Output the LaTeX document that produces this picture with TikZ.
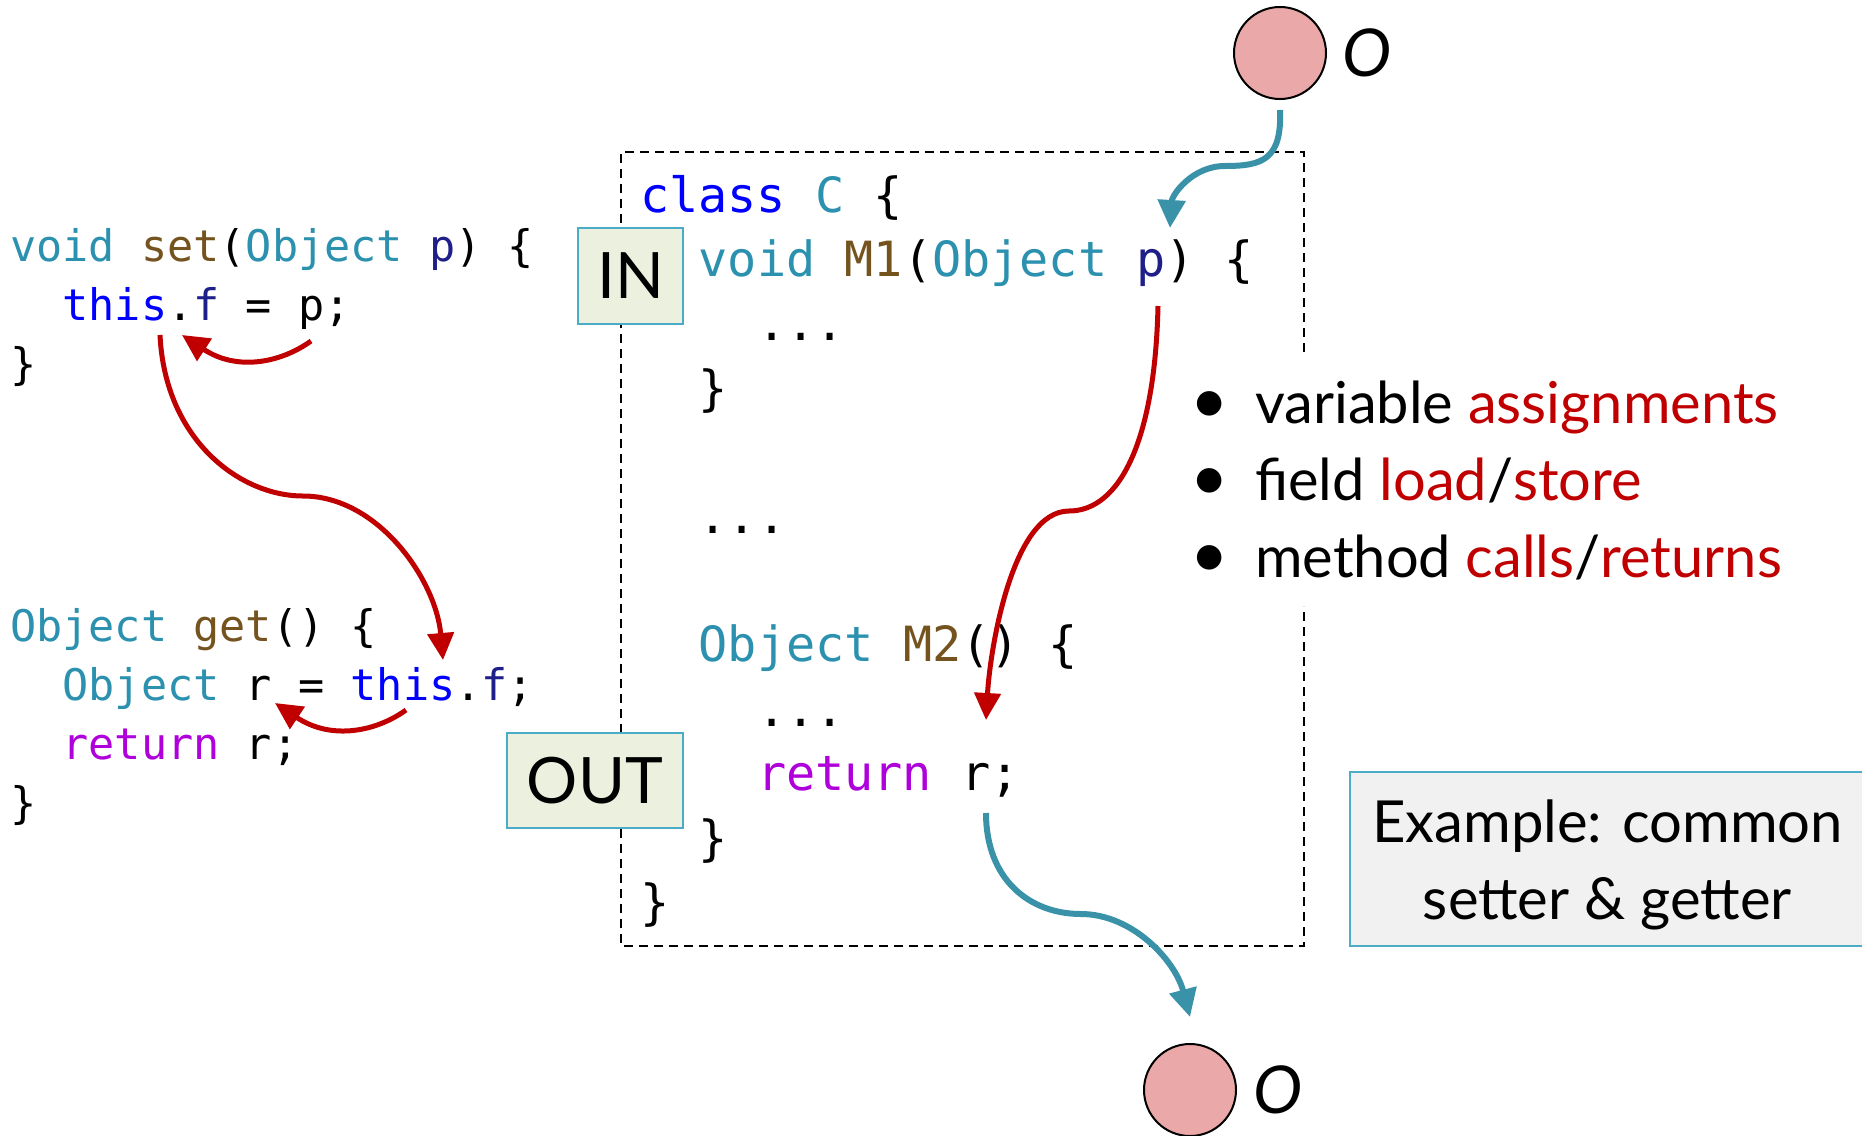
\documentclass[tikz,border=0pt]{standalone}
\usepackage{fontspec}
\setmainfont{Lato}
\setmonofont{DejaVu Sans Mono}
\usetikzlibrary{arrows.meta}

% syntax colours
\definecolor{cKwC}{HTML}{0000FF}
\definecolor{cTyC}{HTML}{2B91AF}
\definecolor{cFnC}{HTML}{74531F}
\definecolor{cPaC}{HTML}{1F1F8A}
\definecolor{cRtC}{HTML}{AF00DB}
% diagram colours
\definecolor{flowred}{HTML}{C00000}
\definecolor{flowblue}{HTML}{3A92A8}
\definecolor{tagfill}{HTML}{EBF1DE}
\definecolor{tagline}{HTML}{4BACC6}
\definecolor{objfill}{HTML}{EBA8A8}
\definecolor{notefill}{HTML}{F1F1F1}

\newcommand\cKw[1]{\textcolor{cKwC}{#1}}
\newcommand\cTy[1]{\textcolor{cTyC}{#1}}
\newcommand\cFn[1]{\textcolor{cFnC}{#1}}
\newcommand\cPa[1]{\textcolor{cPaC}{#1}}
\newcommand\cRt[1]{\textcolor{cRtC}{#1}}

\begin{document}
\begin{tikzpicture}[x=1pt,y=-1pt,
  codeS/.style={anchor=base west, inner sep=0pt, font=\fontsize{43.5}{52}\selectfont\ttfamily},
  codeL/.style={anchor=base west, inner sep=0pt, font=\fontsize{48.5}{58}\selectfont\ttfamily},
  tag/.style={draw=tagline, line width=1.5pt, fill=tagfill, inner sep=0pt, font=\fontsize{64}{70}\selectfont},
  obj/.style={circle, draw=black, line width=2pt, fill=objfill, minimum size=92pt, inner sep=0pt},
  objlabel/.style={anchor=west, inner sep=0pt, font=\fontsize{66}{70}\selectfont\itshape},
  bullet/.style={anchor=base west, inner sep=0pt, font=\fontsize{57.8}{60}\selectfont},
  note/.style={draw=tagline, line width=1.5pt, fill=notefill, inner sep=0pt},
  notetext/.style={inner sep=0pt, align=center, font=\fontsize{58}{77}\selectfont},
  redflow/.style={draw=flowred, line width=5pt, -{Triangle[length=27pt,width=26pt]}},
  blueflow/.style={draw=flowblue, line width=6pt, -{Triangle[length=28pt,width=27pt]}},
  scopebox/.style={draw=black, line width=2.4pt, dash pattern=on 9pt off 6pt}
]
\useasboundingbox (0,0) rectangle (1862,1135);

% setter and getter
\node[codeS] (s1) at (10,261) {\cTy{void} \cFn{set}(\cTy{Object} \cPa{p}) \{};
\node[codeS] (s2) at (62.4,320) {\cKw{this}.\cPa{f} = p;};
\node[codeS] (s3) at (10,379) {\}};
\node[codeS] (g1) at (10,641) {\cTy{Object} \cFn{get}() \{};
\node[codeS] (g2) at (62.4,700) {\cTy{Object} r = \cKw{this}.\cPa{f};};
\node[codeS] (g3) at (62.4,759) {\cRt{return} r;};
\node[codeS] (g4) at (10,818) {\}};

% class C, with its border broken beside the list
\draw[scopebox] (1304,352) -- (1304,152) -- (621,152) -- (621,946) -- (1304,946) -- (1304,606);
\node[codeL] (c0) at (640,212) {\cKw{class} \cTy{C} \{};
\node[codeL] (c1) at (698.4,276.5) {\cTy{void} \cFn{M1}(\cTy{Object} \cPa{p}) \{};
\node[codeL] (c2) at (756.8,340) {...};
\node[codeL] (c3) at (698.4,405) {\}};
\node[codeL] (c5) at (698.4,533) {...};
\node[codeL] (c7) at (698.4,661) {\cTy{Object} \cFn{M2}() \{};
\node[codeL] (c8) at (756.8,726) {...};
\node[codeL] (c9) at (756.8,790) {\cRt{return} r;};
\node[codeL] (c10) at (698.4,855) {\}};
\node[codeL] (c11) at (640,919) {\}};

% entry and exit tags
\node[tag, minimum width=105pt, minimum height=96pt] (in) at (630.5,276) {IN};
\node[tag, minimum width=176pt, minimum height=95pt] (out) at (595,780.5) {OUT};

% abstract objects
\node[obj] (o1) at (1280,53) {};
\node[objlabel] (o1l) at (1342,53) {O};
\node[obj] (o2) at (1190,1090) {};
\node[objlabel] (o2l) at (1253,1090) {O};

% what is tracked
\node[bullet] (b1) at (1190,423) {\makebox[65pt][l]{\fontsize{66}{60}\selectfont•}variable \textcolor{flowred}{assignments}};
\node[bullet] (b2) at (1190,500) {\makebox[65pt][l]{\fontsize{66}{60}\selectfont•}field \textcolor{flowred}{load}/\textcolor{flowred}{store}};
\node[bullet] (b3) at (1190,577) {\makebox[65pt][l]{\fontsize{66}{60}\selectfont•}method \textcolor{flowred}{calls}/\textcolor{flowred}{returns}};

% example note
\node[note, minimum width=515pt, minimum height=174pt] (ex) at (1607.5,859) {};
\node[notetext] (ext) at ([yshift=-6pt]ex.center) {Example: common\\setter \& getter};

% connector ends
\coordinate (pin) at (1170,228);
\coordinate (pfrom) at (1158,306);
\coordinate (rto) at (986,720);
\coordinate (rfrom) at (986,813);
\coordinate (fset) at (160,335);
\coordinate (fget) at (443,660);
\coordinate (pset) at (311,341);
\coordinate (fsetto) at (182,335);
\coordinate (fgetfrom) at (406,710);
\coordinate (rget) at (275,703);

% flows
\draw[blueflow] ([yshift=-10pt]o1.south) .. controls (1282,160) and (1262,166) .. (1225,166)
  .. controls (1192,166) and (1172,195) .. (pin);
\draw[blueflow] (rfrom) .. controls (986,880) and (1030,914) .. (1081,914)
  .. controls (1132,914) and (1175,960) .. ([yshift=26pt]o2.north);
\draw[redflow] (pfrom) .. controls (1155,440) and (1120,511) .. (1069,511)
  .. controls (1012,511) and (990,650) .. (rto);
\draw[redflow] (fset) .. controls (165,440) and (240,496) .. (303,496)
  .. controls (378,496) and (436,580) .. (fget);
\draw[redflow] (pset) .. controls (282,362) and (238,372) .. (fsetto);
\draw[redflow] (fgetfrom) .. controls (377,731) and (332,741) .. (rget);
\end{tikzpicture}
\end{document}
